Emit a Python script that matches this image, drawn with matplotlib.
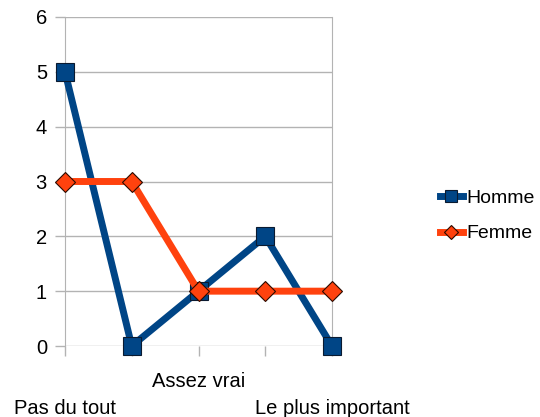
import matplotlib
matplotlib.use('Agg')
import matplotlib.pyplot as plt

# data
categories = ['Pas du tout', '', 'Assez vrai', '', 'Le plus important']
positions = [1, 2, 3, 4, 5]
homme = [5, 0, 1, 2, 0]
femme = [3, 3, 1, 1, 1]
yticks = [0, 1, 2, 3, 4, 5, 6]

blue = '#004586'
orange = '#ff420e'
grid = '#b3b3b3'

plt.rcParams['font.family'] = ['Liberation Sans', 'DejaVu Sans']

fig = plt.figure(figsize=(5.4, 4.17), dpi=100)
ax = fig.add_axes([65 / 540, 71 / 417, 267 / 540, 329 / 417])

ax.plot(positions, homme, color=blue, lw=5, marker='s', ms=13,
        mec='#0a1a30', mew=0.8, label='Homme', clip_on=False, zorder=3)
ax.plot(positions, femme, color=orange, lw=5, marker='D', ms=10,
        mec='#2a0a00', mew=0.8, label='Femme', clip_on=False, zorder=4)

ax.set_xlim(1, 5)
ax.set_ylim(0, 6)
ax.set_yticks(yticks)
ax.set_xticks(positions)

# staggered labels: visible labels alternate lower / upper row
labels = []
n = 0
for c in categories:
    if c and n % 2 == 0:
        labels.append('\n' + c)
    else:
        labels.append(c)
    if c:
        n += 1
ax.set_xticklabels(labels)
for lab in ax.get_xticklabels():
    lab.set_linespacing(1.5)

ax.grid(axis='y', color=grid, lw=1)
ax.set_axisbelow(True)
for s in ['top', 'bottom']:
    ax.spines[s].set_visible(False)
ax.spines['left'].set_color(grid)
ax.spines['right'].set_color(grid)
ax.tick_params(axis='both', color=grid, length=7, width=1, labelsize=14.5,
               labelcolor='black')
ax.tick_params(axis='x', pad=12)
ax.tick_params(axis='y', pad=6)

fig.legend(loc='center left', bbox_to_anchor=(432 / 540, 1 - 216 / 417),
           frameon=False, fontsize=14, handlelength=1.2, handletextpad=0.15,
           labelspacing=0.9, borderaxespad=0, markerscale=0.7)

fig.savefig('out.png', dpi=100)
